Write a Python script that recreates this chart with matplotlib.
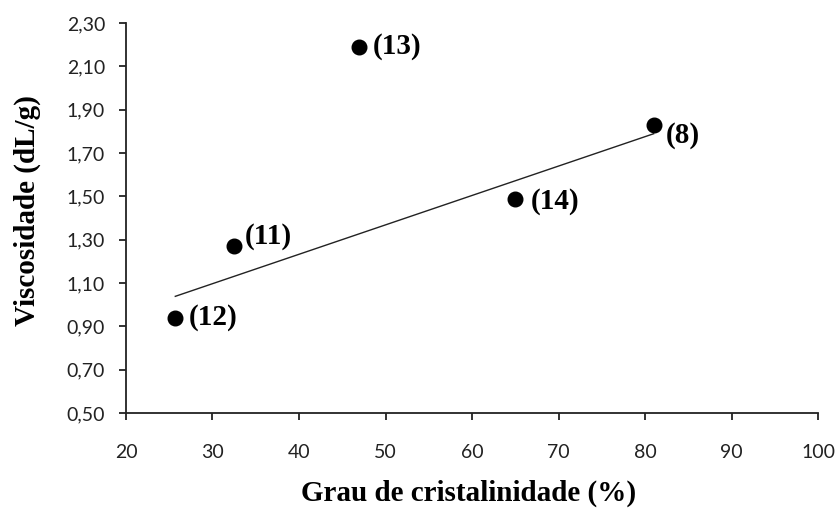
import numpy as np
import matplotlib
matplotlib.use("Agg")
import matplotlib.pyplot as plt
from matplotlib.ticker import FuncFormatter

# Data
crystallinity = [25.7, 32.5, 46.9, 65.0, 81.0]
viscosity = [0.94, 1.27, 2.19, 1.49, 1.83]
labels = ["(12)", "(11)", "(13)", "(14)", "(8)"]
trend_included = [True, True, False, True, True]

x_ticks = [20, 30, 40, 50, 60, 70, 80, 90, 100]
y_ticks = [0.50, 0.70, 0.90, 1.10, 1.30, 1.50, 1.70, 1.90, 2.10, 2.30]

fig = plt.figure(figsize=(8.36, 5.09), dpi=100)
ax = fig.add_axes([0.1507, 0.1886, 0.8278, 0.7662])

x = np.array(crystallinity)
y = np.array(viscosity)
mask = np.array(trend_included)
coef = np.polyfit(x[mask], y[mask], 1)
xl = np.array([x[mask].min(), x[mask].max()])
ax.plot(xl, np.polyval(coef, xl), color="#222222", lw=1.0, zorder=2)

ax.plot(x, y, "o", color="black", ms=10.5, zorder=3)

offsets = {"(12)": (10, 0), "(11)": (8, 7), "(13)": (10, 0), "(14)": (11, -2), "(8)": (9, -8)}
for xi, yi, lab in zip(x, y, labels):
    dx, dy = offsets[lab]
    ax.annotate(lab, (xi, yi), xytext=(dx, dy), textcoords="offset points",
                ha="left", va="center", fontsize=21, fontweight="bold",
                family="Liberation Serif", color="black")

ax.set_xlim(20, 100)
ax.set_ylim(0.50, 2.30)
ax.set_xticks(x_ticks)
ax.set_yticks(y_ticks)
ax.yaxis.set_major_formatter(FuncFormatter(lambda v, p: f"{v:.2f}".replace(".", ",")))
for t in ax.get_xticklabels() + ax.get_yticklabels():
    t.set_family("Lato")
    t.set_fontsize(14)
    t.set_color("#222222")

ax.spines["top"].set_visible(False)
ax.spines["right"].set_visible(False)
for s in ["left", "bottom"]:
    ax.spines[s].set_linewidth(1.3)
    ax.spines[s].set_color("#222222")
ax.tick_params(direction="out", length=5, width=1.3, color="#222222")
ax.tick_params(axis="x", pad=17)
ax.tick_params(axis="y", pad=10)

ax.set_xlabel("Grau de cristalinidade (%)", family="Liberation Serif",
              fontweight="bold", fontsize=21)
ax.set_ylabel("Viscosidade (dL/g)", family="Liberation Serif",
              fontweight="bold", fontsize=21)
ax.xaxis.set_label_coords(0.495, -0.205)
ax.xaxis.label.set_va("center")
ax.yaxis.set_label_coords(-0.142, 0.52)
ax.yaxis.label.set_va("center")

fig.savefig("out.png", dpi=100)
